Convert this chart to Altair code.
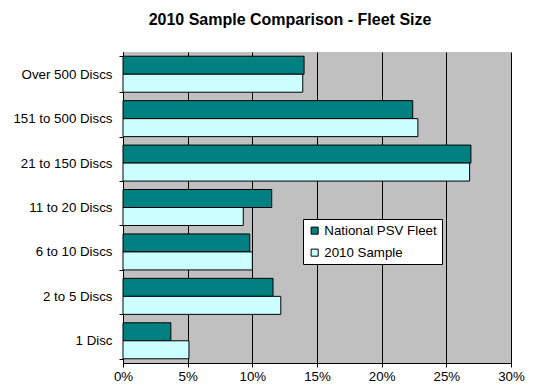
import altair as alt
import pandas as pd

# Fleet-size bands, top to bottom
categories = [
    "Over 500 Discs",
    "151 to 500 Discs",
    "21 to 150 Discs",
    "11 to 20 Discs",
    "6 to 10 Discs",
    "2 to 5 Discs",
    "1 Disc",
]
series_names = ["National PSV Fleet", "2010 Sample"]
national_fleet = [14.0, 22.4, 26.9, 11.5, 9.8, 11.6, 3.7]
sample_2010 = [13.9, 22.8, 26.8, 9.3, 10.0, 12.2, 5.1]
x_ticks = [0, 5, 10, 15, 20, 25, 30]

rows = []
for cat, a, b in zip(categories, national_fleet, sample_2010):
    rows.append({"band": cat, "series": series_names[0], "pct": a})
    rows.append({"band": cat, "series": series_names[1], "pct": b})
df = pd.DataFrame(rows)

FONT = "Liberation Sans"
LABEL_SIZE = 13.3

bars = alt.Chart(df).mark_bar(stroke="black", strokeWidth=1, opacity=1).encode(
    x=alt.X(
        "pct:Q",
        scale=alt.Scale(domain=[0, 30], nice=False, zero=True),
        axis=alt.Axis(
            values=x_ticks,
            labelExpr="datum.value + '%'",
            labelFlush=False,
            title=None,
            grid=True,
            gridColor="black",
            gridWidth=1,
            gridOpacity=1,
            domainColor="black",
            tickColor="black",
            tickSize=4,
            labelPadding=2,
            labelFontSize=LABEL_SIZE,
            labelFont=FONT,
            labelColor="black",
        ),
    ),
    y=alt.Y(
        "band:N",
        sort=categories,
        scale=alt.Scale(paddingInner=0.19, paddingOuter=0.095),
        axis=alt.Axis(
            title=None,
            tickBand="extent",
            domainColor="black",
            tickColor="black",
            tickSize=4,
            labelPadding=7,
            labelFontSize=LABEL_SIZE,
            labelFont=FONT,
            labelColor="black",
        ),
    ),
    yOffset=alt.YOffset("series:N", sort=series_names),
    color=alt.Color(
        "series:N",
        sort=series_names,
        scale=alt.Scale(domain=series_names, range=["#008080", "#CCFFFF"]),
        title=None,
        legend=alt.Legend(
            orient="none",
            legendX=180,
            legendY=167,
            fillColor="white",
            strokeColor="black",
            padding=5,
            rowPadding=8,
            symbolType="square",
            symbolSize=50,
            symbolStrokeColor="black",
            symbolStrokeWidth=1,
            symbolOpacity=1,
            labelFontSize=LABEL_SIZE,
            labelFont=FONT,
            labelColor="black",
            labelOffset=3,
        ),
    ),
)

chart = bars.properties(
    width=388,
    height=311,
    autosize="none",
    padding={"left": 123, "top": 52, "right": 24, "bottom": 26},
    background="white",
    title=alt.TitleParams(
        text="2010 Sample Comparison - Fleet Size",
        font=FONT,
        fontSize=16,
        fontWeight="bold",
        color="black",
        anchor="middle",
        dx=-27,
        offset=17,
    ),
).configure_view(fill="#C0C0C0", strokeWidth=0)

chart.save("out.html", embed_options={"renderer": "svg", "actions": False})
